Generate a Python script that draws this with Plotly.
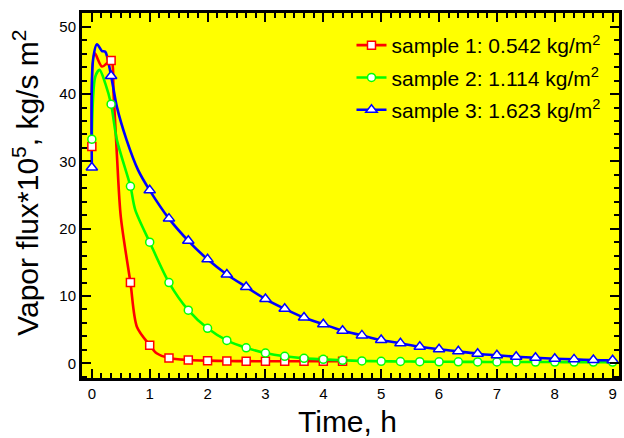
import plotly.graph_objects as go

# ---- data ----
# marker samples (every 1/3 h)
red_t = [0, 0.333, 0.667, 1.0, 1.333, 1.667, 2.0, 2.333, 2.667, 3.0, 3.333, 3.667, 4.0, 4.333]
red_v = [32.2, 45.0, 12.0, 2.7, 0.8, 0.5, 0.4, 0.35, 0.32, 0.3, 0.3, 0.3, 0.3, 0.3]

green_t = [0, 0.333, 0.667, 1.0, 1.333, 1.667, 2.0, 2.333, 2.667, 3.0, 3.333, 3.667, 4.0, 4.333,
           4.667, 5.0, 5.333, 5.667, 6.0, 6.333, 6.667, 7.0, 7.333, 7.667, 8.0, 8.333, 8.667, 9.0]
green_v = [33.3, 38.5, 26.3, 18.0, 12.0, 7.9, 5.2, 3.4, 2.3, 1.53, 1.04, 0.74, 0.59, 0.45,
           0.35, 0.3, 0.27, 0.25, 0.23, 0.22, 0.21, 0.2, 0.2, 0.19, 0.19, 0.18, 0.18, 0.18]

blue_t = [0, 0.333, 1.0, 1.333, 1.667, 2.0, 2.333, 2.667, 3.0, 3.333, 3.667, 4.0, 4.333,
          4.667, 5.0, 5.333, 5.667, 6.0, 6.333, 6.667, 7.0, 7.333, 7.667, 8.0, 8.333, 8.667, 9.0]
blue_v = [29.1, 42.7, 25.7, 21.5, 18.2, 15.45, 13.2, 11.35, 9.55, 8.1, 6.8, 5.8, 4.85,
          4.15, 3.46, 2.97, 2.47, 2.08, 1.78, 1.43, 1.19, 0.98, 0.83, 0.68, 0.59, 0.49, 0.45]

# extra points (between markers)
red_curve_t = [0.048, 0.175, 0.375, 0.433, 0.5, 0.78, 1.12]
red_curve_v = [46.1, 44.1, 40.1, 31.0, 21.8, 5.4, 1.5]
green_curve_t = [0.06, 0.134, 0.232, 0.433, 0.75]
green_curve_v = [42.6, 43.6, 41.6, 33.2, 22.8]
blue_curve_t = [0.02, 0.089, 0.175, 0.232, 0.433, 0.6, 0.8]
blue_curve_v = [45.0, 47.4, 46.4, 46.3, 38.1, 33.2, 28.7]

names = ["sample 1: 0.542 kg/m<sup>2</sup>",
         "sample 2: 1.114 kg/m<sup>2</sup>",
         "sample 3: 1.623 kg/m<sup>2</sup>"]
colors = ["#FF0000", "#00FF00", "#0000FF"]
symbols = ["square", "circle", "triangle-up"]
msizes = [8, 8, 10]

x_ticks = list(range(0, 10))
y_ticks = [0, 10, 20, 30, 40, 50]


def merged(t1, v1, t2, v2):
    pts = sorted(zip(t1 + t2, v1 + v2))
    return [p[0] for p in pts], [p[1] for p in pts]


series = [(red_t, red_v, red_curve_t, red_curve_v),
          (green_t, green_v, green_curve_t, green_curve_v),
          (blue_t, blue_v, blue_curve_t, blue_curve_v)]

fig = go.Figure()
for i, (mt, mv, ct, cv) in enumerate(series):
    lt, lv = merged(mt, mv, ct, cv)
    fig.add_trace(go.Scatter(x=lt, y=lv, mode="lines", line=dict(color=colors[i], width=2.6, shape="spline", smoothing=0.8),
                             showlegend=False, hoverinfo="skip"))
for i, (mt, mv, ct, cv) in enumerate(series):
    fig.add_trace(go.Scatter(x=mt, y=mv, mode="markers",
                             marker=dict(symbol=symbols[i], size=msizes[i], color="white",
                                         line=dict(color=colors[i], width=1.5)),
                             showlegend=False))
for i in range(3):
    fig.add_trace(go.Scatter(x=[None], y=[None], mode="lines+markers", name=names[i],
                             legendgroup=str(i),
                             line=dict(color=colors[i], width=2.6),
                             marker=dict(symbol=symbols[i], size=msizes[i], color="white",
                                         line=dict(color=colors[i], width=1.5))))

axis_common = dict(showline=True, linewidth=3, linecolor="black", mirror="allticks",
                   ticks="inside", ticklen=9, tickwidth=2, tickcolor="black",
                   showgrid=False, zeroline=False,
                   tickfont=dict(family="Arial, Liberation Sans", size=15, color="black"))

fig.update_xaxes(range=[-0.17, 9.11], tickvals=x_ticks,
                 minor=dict(dtick=1/6, tick0=0, ticks="inside", ticklen=5, tickwidth=2, tickcolor="black"),
                 **axis_common)
fig.update_yaxes(range=[-2.18, 52.05], tickvals=y_ticks,
                 minor=dict(dtick=2, tick0=0, ticks="inside", ticklen=5, tickwidth=2, tickcolor="black"),
                 **axis_common)

fig.add_annotation(text="Vapor flux*10<sup>5</sup>, kg/s m<sup>2</sup>", textangle=-90,
                   xref="paper", yref="paper", x=(25 - 82) / 540, y=(378 - 182.5) / 365,
                   xanchor="center", yanchor="middle", showarrow=False,
                   font=dict(family="Arial, Liberation Sans", size=30, color="black"))
fig.add_annotation(text="Time, h",
                   xref="paper", yref="paper", x=(348.5 - 82) / 540, y=(378 - 421) / 365,
                   xanchor="center", yanchor="middle", showarrow=False,
                   font=dict(family="Arial, Liberation Sans", size=30, color="black"))

fig.update_layout(width=624, height=438, margin=dict(l=82, r=2, t=13, b=60),
                  plot_bgcolor="#FFFF00", paper_bgcolor="white",
                  legend=dict(x=(353 - 82) / 540, y=(378 - 25) / 365, xanchor="left", yanchor="top",
                              bgcolor="rgba(0,0,0,0)", tracegroupgap=2,
                              font=dict(family="Arial, Liberation Sans", size=21, color="black")),
                  showlegend=True)

fig.write_html("out.html", config={"displayModeBar": False},
               post_script="document.body.style.margin='0';")
